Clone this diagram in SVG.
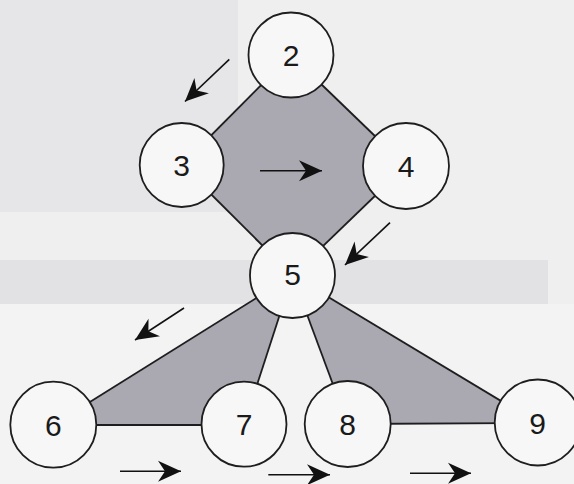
<svg xmlns="http://www.w3.org/2000/svg" width="574" height="484" viewBox="0 0 574 484">
  <style>
    .region { fill: #aaa8b0; stroke: none; }
    .edge { stroke: #1e1e1e; stroke-width: 1.8; fill: none; }
    .arrow { stroke: #111; stroke-width: 1.6; fill: none; marker-end: url(#head); }
    .node circle { fill: #f7f7f8; stroke: #1e1e1e; stroke-width: 1.8; }
    .node text { font-family: "Liberation Sans", Arial, sans-serif; font-size: 30px; fill: #1a1a1a; text-anchor: middle; }
  </style>
  <defs>
    <marker id="head" markerUnits="userSpaceOnUse" markerWidth="26" markerHeight="26" viewBox="-24 -13 26 26" refX="0" refY="0" orient="auto">
      <path d="M0,0 L-23,-10.5 L-16,0 L-23,10.5 Z" fill="#111"/>
    </marker>
  </defs>

  <g id="background">
    <rect x="0" y="0" width="574" height="484" fill="#efeff0"/>
    <rect x="0" y="0" width="238" height="212" fill="#e6e6e8"/>
    <rect x="0" y="260" width="548" height="44" fill="#e2e2e4"/>
    <rect x="0" y="304" width="574" height="180" fill="#f3f3f4"/>
  </g>

  <g id="regions">
    <polygon class="region" points="291,55 406,166 292.5,275.5 181.7,165"/>
    <polygon class="region" points="292.5,275.5 53,425 244,425"/>
    <polygon class="region" points="292.5,275.5 347.7,424 537.7,423"/>
  </g>

  <g id="connectors">
    <line class="edge" x1="291" y1="55" x2="181.7" y2="165"/>
    <line class="edge" x1="291" y1="55" x2="406" y2="166"/>
    <line class="edge" x1="181.7" y1="165" x2="292.5" y2="275.5"/>
    <line class="edge" x1="406" y1="166" x2="292.5" y2="275.5"/>
    <line class="edge" x1="292.5" y1="275.5" x2="53" y2="425"/>
    <line class="edge" x1="292.5" y1="275.5" x2="244" y2="425"/>
    <line class="edge" x1="53" y1="425" x2="244" y2="425"/>
    <line class="edge" x1="292.5" y1="275.5" x2="347.7" y2="424"/>
    <line class="edge" x1="292.5" y1="275.5" x2="537.7" y2="423"/>
    <line class="edge" x1="347.7" y1="424" x2="537.7" y2="423"/>

    <line class="arrow" x1="229.3" y1="59.3" x2="185" y2="101.5"/>
    <line class="arrow" x1="260" y1="170.7" x2="322" y2="170.7"/>
    <line class="arrow" x1="390" y1="222.7" x2="345" y2="265"/>
    <line class="arrow" x1="184" y1="308" x2="135" y2="340"/>
    <line class="arrow" x1="120" y1="471.3" x2="181" y2="471.3"/>
    <line class="arrow" x1="268.3" y1="474.7" x2="330" y2="474.7"/>
    <line class="arrow" x1="410" y1="473.3" x2="471" y2="473.3"/>
  </g>

  <g id="node2" class="node"><circle cx="291" cy="55" r="42.5"/><text x="291" y="65.5">2</text></g>
  <g id="node3" class="node"><circle cx="181.7" cy="165" r="42"/><text x="181.7" y="176">3</text></g>
  <g id="node4" class="node"><circle cx="406" cy="166" r="43"/><text x="406" y="177">4</text></g>
  <g id="node5" class="node"><circle cx="292.5" cy="275.5" r="42.5"/><text x="292.5" y="285">5</text></g>
  <g id="node6" class="node"><circle cx="53.3" cy="424.7" r="43"/><text x="53.3" y="435.5">6</text></g>
  <g id="node7" class="node"><circle cx="244" cy="424.2" r="42.5"/><text x="244" y="435">7</text></g>
  <g id="node8" class="node"><circle cx="347.7" cy="424" r="43"/><text x="347.7" y="435">8</text></g>
  <g id="node9" class="node"><circle cx="537.7" cy="422.5" r="43"/><text x="537.7" y="433.5">9</text></g>
</svg>
